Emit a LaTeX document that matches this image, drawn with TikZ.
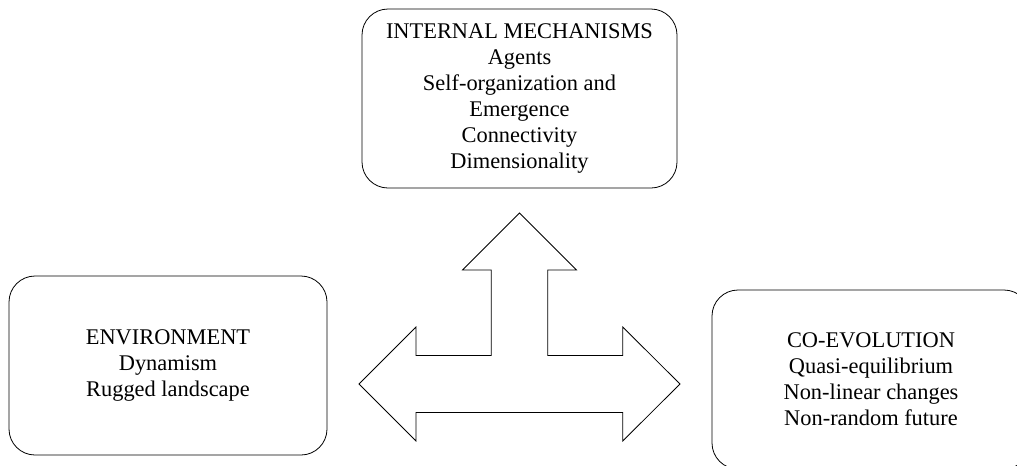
\documentclass[tikz,border=0pt]{standalone}
\usepackage{fontspec}
\setmainfont{Liberation Serif}
\usetikzlibrary{positioning}

\tikzset{
  panel/.style={draw, rounded corners=19.5pt, line width=0.6pt, align=center,
    minimum width=238.5pt, minimum height=134.25pt, inner sep=0pt,
    font=\fontsize{16.8}{19.5}\selectfont},
  bigarrow/.style={draw, line width=0.6pt, line join=miter}
}

\begin{document}
\begin{tikzpicture}[x=0.75pt,y=-0.75pt]
        % Frame
        \useasboundingbox (0,0) rectangle (1017,465);
        \clip (0,0) rectangle (1017,465);
        % Boxes
        \node[panel, minimum width=236.25pt] (internal) at (519.5,98.5)
          {INTERNAL MECHANISMS\\Agents\\Self-organization and\\Emergence\\Connectivity\\Dimensionality};
        \node[panel] (environment) at (168,365.5)
          {ENVIRONMENT\\Dynamism\\Rugged landscape};
        \node[panel] (coevolution) at (871,379.5)
          {CO-EVOLUTION\\Quasi-equilibrium\\Non-linear changes\\Non-random future};
        % Three-way arrow
        \coordinate (up) at (519.5,213);
        \coordinate (left) at (359,384);
        \coordinate (right) at (680,384);
        \draw[bigarrow] (up) -- (576.5,270) -- (547.7,270) -- (547.7,355.5)
          -- (622.7,355.5) -- (622.7,327) -- (right) -- (622.7,441)
          -- (622.7,412.5) -- (416,412.5) -- (416,441) -- (left)
          -- (416,327) -- (416,355.5) -- (491.3,355.5) -- (491.3,270)
          -- (462.5,270) -- cycle;
    \end{tikzpicture}
\end{document}
